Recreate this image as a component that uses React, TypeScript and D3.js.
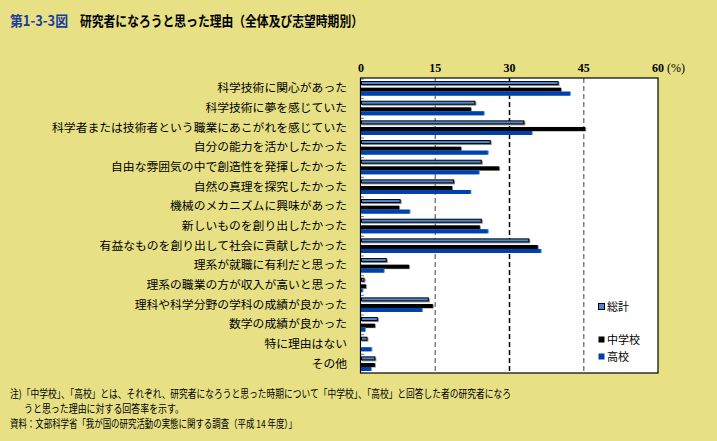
import React from "react";
import * as d3 from "d3";

const categories = [
  "科学技術に関心があった",
  "科学技術に夢を感じていた",
  "科学者または技術者という職業にあこがれを感じていた",
  "自分の能力を活かしたかった",
  "自由な雰囲気の中で創造性を発揮したかった",
  "自然の真理を探究したかった",
  "機械のメカニズムに興味があった",
  "新しいものを創り出したかった",
  "有益なものを創り出して社会に貢献したかった",
  "理系が就職に有利だと思った",
  "理系の職業の方が収入が高いと思った",
  "理科や科学分野の学科の成績が良かった",
  "数学の成績が良かった",
  "特に理由はない",
  "その他",
];

const totalValues = [39.9, 23.1, 33.0, 26.2, 24.4, 18.8, 8.0, 24.4, 34.0, 5.2, 0.7, 13.7, 3.4, 1.3, 2.9];
const juniorHighValues = [40.4, 22.2, 45.3, 20.2, 27.9, 18.4, 7.7, 24.0, 35.7, 9.7, 1.0, 14.5, 2.8, 0, 2.8];
const highSchoolValues = [42.2, 24.8, 34.5, 25.6, 23.8, 22.1, 9.8, 25.6, 36.3, 4.6, 0.3, 12.3, 0.8, 2.1, 2.0];

const seriesNames = ["総計", "中学校", "高校"];
const tickValues = [0, 15, 30, 45, 60];

const BG = "#e7e085";
const C_TOTAL = "#4a88d6";
const C_JH = "#000000";
const C_HS = "#0040ac";

const FONT_JP = "'Noto Sans CJK JP', sans-serif";
const FONT_NUM = "'Liberation Serif', serif";

export default function App() {
  const left = 361;
  const right = 658;
  const top = 78;
  const bottom = 373;

  const x = d3.scaleLinear().domain([0, 60]).range([left, right]);
  const y = d3.scaleBand<string>().domain(categories).range([top, bottom]).padding(0);
  const bw = y.bandwidth();
  const barH = 4;
  const offTotal = bw * 0.155;
  const offJH = bw * 0.49;
  const offHS = offJH + barH;

  const gridColor = (v: number) => (v === 30 ? "#000" : "#808080");

  return (
    <svg
      width={717}
      height={441}
      style={{ position: "absolute", left: 0, top: 0, background: BG }}
    >
      <rect x={0} y={0} width={717} height={441} fill={BG} />
      {/* Title */}
      <text x={10} y={26} fontFamily={FONT_JP} fontSize={14} fontWeight="bold" fill="#1a3c9c" textLength={58} lengthAdjust="spacingAndGlyphs">
        第1-3-3図
      </text>
      <text x={80} y={26} fontFamily={FONT_JP} fontSize={14} fontWeight="bold" fill="#000" textLength={283} lengthAdjust="spacingAndGlyphs">
        研究者になろうと思った理由（全体及び志望時期別）
      </text>

      {/* plot area */}
      <rect x={left - 0.5} y={top} width={right - left + 0.5} height={bottom - top} fill="#fff" />

      {/* grid lines */}
      {tickValues
        .filter((v) => v > 0 && v < 60)
        .map((v) => (
          <line
            key={"g" + v}
            x1={x(v)}
            x2={x(v)}
            y1={top}
            y2={bottom}
            stroke={gridColor(v)}
            strokeWidth={1.5}
            strokeDasharray="5,3"
          />
        ))}

      {/* small ticks at category boundaries */}
      {categories.map((c) => (
        <line
          key={"t" + c}
          x1={left}
          x2={left + 3}
          y1={(y(c) as number) + 1}
          y2={(y(c) as number) + 1}
          stroke="#777"
          strokeWidth={1}
        />
      ))}

      {/* bars */}
      {categories.map((c, i) => {
        const y0 = y(c) as number;
        const wT = x(totalValues[i]) - x(0);
        const wJ = x(juniorHighValues[i]) - x(0);
        const wH = x(highSchoolValues[i]) - x(0);
        return (
          <g key={"b" + c}>
            {wT > 0 && (
              <>
                <rect x={left + 1} y={y0 + offTotal + 1} width={wT} height={barH} fill="#8a8a8a" />
                <rect
                  x={left + 0.5}
                  y={y0 + offTotal + 0.5}
                  width={Math.max(wT - 1, 0.5)}
                  height={barH - 1}
                  fill={C_TOTAL}
                  stroke="#000"
                  strokeWidth={1}
                />
              </>
            )}
            {wJ > 0 && (
              <>
                <rect x={left + 1} y={y0 + offJH + 0.5} width={wJ} height={barH} fill="#8a8a8a" />
                <rect x={left} y={y0 + offJH} width={wJ} height={barH} fill={C_JH} />
              </>
            )}
            {wH > 0 && (
              <>
                <rect x={left + 1} y={y0 + offHS} width={wH} height={barH} fill="#3aa0e0" />
                <rect x={left} y={y0 + offHS} width={wH} height={barH} fill={C_HS} />
              </>
            )}
          </g>
        );
      })}

      {/* plot border */}
      <rect
        x={left - 0.5}
        y={top}
        width={right - left + 0.5}
        height={bottom - top}
        fill="none"
        stroke="#000"
        strokeWidth={1.2}
      />

      {/* tick labels */}
      {tickValues.map((v) => (
        <text
          key={"l" + v}
          x={x(v)}
          y={72}
          textAnchor="middle"
          fontFamily={FONT_NUM}
          fontSize={12}
          fontWeight="bold"
          fill="#000"
        >
          {v}
        </text>
      ))}
      <text x={x(60) + 9} y={72} fontFamily={FONT_NUM} fontSize={12} fill="#000">
        (%)
      </text>

      {/* category labels */}
      {categories.map((c) => (
        <text
          key={"c" + c}
          x={347}
          y={(y(c) as number) + bw / 2 + 4.5}
          textAnchor="end"
          fontFamily={FONT_JP}
          fontSize={11.8}
          fill="#000"
        >
          {c}
        </text>
      ))}

      {/* legend */}
      {[
        { name: seriesNames[0], color: C_TOTAL, yy: 303, stroke: true },
        { name: seriesNames[1], color: C_JH, yy: 336, stroke: false },
        { name: seriesNames[2], color: C_HS, yy: 353, stroke: false },
      ].map((d) => (
        <g key={"lg" + d.name}>
          <rect
            x={598.5}
            y={d.yy + 0.5}
            width={6}
            height={6}
            fill={d.color}
            stroke={d.stroke ? "#000" : "none"}
            strokeWidth={1}
          />
          <text x={607} y={d.yy + 7.5} fontFamily={FONT_JP} fontSize={11} fill="#000">
            {d.name}
          </text>
        </g>
      ))}

      {/* footnotes */}
      <text x={10} y={397.5} fontFamily={FONT_JP} fontSize={11} fill="#000" textLength={501} lengthAdjust="spacingAndGlyphs">
        注)「中学校」、「高校」とは、それぞれ、研究者になろうと思った時期について「中学校」、「高校」と回答した者の研究者になろ
      </text>
      <text x={24} y={412.5} fontFamily={FONT_JP} fontSize={11} fill="#000" textLength={160} lengthAdjust="spacingAndGlyphs">
        うと思った理由に対する回答率を示す。
      </text>
      <text x={10} y={427.5} fontFamily={FONT_JP} fontSize={11} fill="#000" textLength={287} lengthAdjust="spacingAndGlyphs">
        資料：文部科学省「我が国の研究活動の実態に関する調査（平成 14 年度）」
      </text>
    </svg>
  );
}
